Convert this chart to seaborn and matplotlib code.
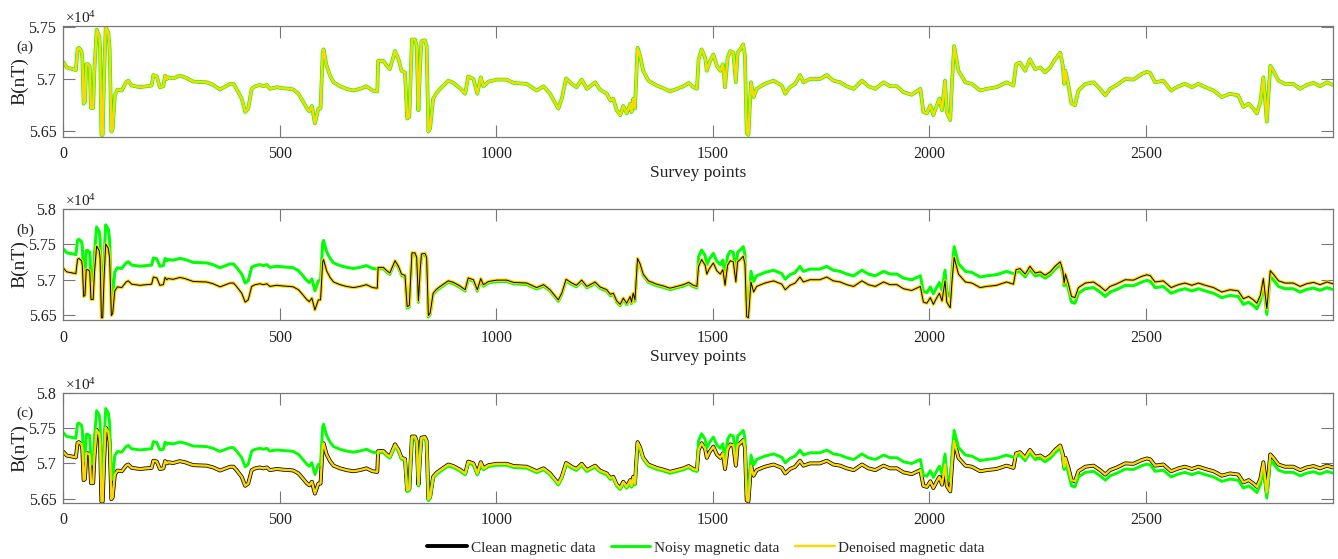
import matplotlib
matplotlib.use("Agg")
import matplotlib.pyplot as plt
import seaborn as sns
import pandas as pd
from matplotlib.ticker import FixedLocator, FuncFormatter

# ---------------- data (nT) ----------------
survey_x = [
    0, 8, 27, 29, 33, 36, 42, 44, 47, 50,
    53, 57, 61, 64, 69, 72, 77, 83, 85, 88,
    91, 94, 98, 104, 107, 111, 114, 119, 125, 135,
    145, 150, 158, 177, 204, 208, 216, 223, 231, 235,
    239, 242, 254, 269, 281, 300, 331, 346, 362, 385,
    393, 400, 412, 420, 427, 435, 443, 454, 462, 470,
    477, 493, 508, 523, 531, 543, 550, 562, 568, 574,
    581, 589, 594, 599, 601, 608, 616, 624, 639, 654,
    670, 685, 700, 714, 725, 727, 739, 747, 754, 766,
    774, 781, 789, 794, 799, 805, 812, 816, 820, 824,
    827, 835, 839, 843, 847, 854, 862, 874, 889, 901,
    916, 928, 935, 947, 956, 964, 970, 982, 1001, 1024,
    1040, 1070, 1093, 1109, 1124, 1143, 1151, 1161, 1174, 1185,
    1197, 1209, 1228, 1239, 1255, 1263, 1270, 1278, 1286, 1293,
    1301, 1309, 1312, 1316, 1320, 1326, 1332, 1339, 1351, 1370,
    1386, 1401, 1417, 1432, 1444, 1455, 1463, 1467, 1474, 1482,
    1486, 1492, 1501, 1509, 1517, 1523, 1528, 1534, 1540, 1547,
    1553, 1557, 1563, 1570, 1574, 1578, 1582, 1588, 1594, 1601,
    1620, 1640, 1659, 1667, 1678, 1690, 1701, 1709, 1724, 1747,
    1763, 1778, 1794, 1809, 1825, 1844, 1859, 1875, 1894, 1909,
    1925, 1940, 1959, 1979, 1986, 1994, 2002, 2009, 2017, 2023,
    2029, 2036, 2040, 2048, 2052, 2057, 2067, 2083, 2098, 2117,
    2132, 2155, 2178, 2194, 2200, 2209, 2221, 2232, 2244, 2256,
    2267, 2279, 2290, 2302, 2308, 2311, 2314, 2321, 2328, 2336,
    2344, 2360, 2379, 2394, 2406, 2417, 2433, 2452, 2471, 2490,
    2502, 2510, 2521, 2540, 2558, 2575, 2590, 2606, 2621, 2637,
    2656, 2675, 2694, 2713, 2725, 2737, 2748, 2756, 2764, 2771,
    2779, 2787, 2794, 2806, 2821, 2840, 2856, 2871, 2887, 2902,
    2918, 2931,
]

clean_nT = [
    57165, 57111, 57089, 57085, 57290, 57301, 57270, 57200, 56763, 56778,
    57142, 57142, 57120, 56721, 56721, 57100, 57475, 57411, 57300, 56462,
    56462, 57000, 57506, 57443, 57300, 56494, 56520, 56842, 56899, 56889,
    56968, 56984, 56937, 56921, 56937, 57038, 57025, 56921, 56930, 57032,
    57000, 57016, 57006, 57032, 57016, 56975, 56968, 56943, 56899, 56953,
    56953, 56905, 56810, 56683, 56715, 56905, 56930, 56943, 56930, 56943,
    56905, 56921, 56911, 56905, 56899, 56858, 56810, 56721, 56690, 56740,
    56573, 56715, 56715, 57253, 57285, 57127, 57032, 56968, 56930, 56905,
    56889, 56905, 56930, 56889, 56880, 57174, 57174, 57127, 57095, 57269,
    57190, 57079, 57063, 56620, 56636, 57380, 57380, 57317, 56699, 57127,
    57364, 57373, 57317, 56494, 56525, 56810, 56867, 56921, 56984, 56962,
    56911, 56858, 57025, 57000, 56858, 57016, 56930, 56975, 56994, 56994,
    56962, 56953, 56889, 56930, 56858, 56715, 56810, 57006, 56953, 56921,
    56994, 56905, 56968, 56899, 56858, 56794, 56810, 56699, 56652, 56740,
    56668, 56763, 56683, 56810, 56715, 57301, 57222, 57079, 56984, 56937,
    56911, 56880, 56905, 56930, 56962, 56921, 56905, 57190, 57285, 57206,
    57079, 57158, 57237, 57127, 57079, 57142, 56921, 57206, 57269, 57253,
    56968, 57253, 57285, 57332, 57222, 56478, 56462, 56968, 56826, 56905,
    56953, 56984, 56937, 56858, 56921, 56953, 57038, 56968, 57000, 57000,
    57038, 56984, 56968, 56930, 56905, 56984, 56930, 56905, 56968, 56930,
    56930, 56873, 56848, 56905, 56683, 56668, 56747, 56652, 56747, 56810,
    56699, 56984, 56683, 56604, 56968, 57317, 57079, 56968, 56953, 56889,
    56905, 56921, 56968, 56937, 57142, 57158, 57079, 57190, 57095, 57111,
    57063, 57111, 57190, 57253, 57127, 56953, 57079, 56937, 56763, 56747,
    56889, 56953, 56968, 56905, 56842, 56905, 56943, 57000, 56994, 57047,
    57070, 57057, 56968, 56984, 56889, 56930, 56953, 56921, 56953, 56921,
    56889, 56826, 56858, 56842, 56731, 56763, 56715, 56668, 56778, 57016,
    56589, 57127, 57079, 56984, 56953, 56953, 56905, 56943, 56962, 56930,
    56968, 56943,
]

# noisy record used in panels (b) and (c)
noisy_nT = [
    57435, 57381, 57359, 57355, 57560, 57571, 57540, 57470, 57033, 57048,
    57412, 57412, 57390, 56991, 56991, 57370, 57745, 57681, 57570, 56732,
    56732, 57270, 57776, 57713, 57570, 56764, 56790, 57112, 57169, 57159,
    57238, 57254, 57207, 57191, 57207, 57308, 57295, 57191, 57200, 57302,
    57270, 57286, 57276, 57302, 57286, 57245, 57238, 57213, 57169, 57223,
    57223, 57175, 57080, 56953, 56985, 57175, 57200, 57213, 57200, 57213,
    57175, 57191, 57181, 57175, 57169, 57128, 57080, 56991, 56960, 57010,
    56843, 56985, 56985, 57523, 57555, 57397, 57302, 57238, 57200, 57175,
    57159, 57175, 57200, 57159, 57150, 57154, 57154, 57107, 57075, 57249,
    57170, 57059, 57043, 56600, 56616, 57360, 57360, 57297, 56679, 57107,
    57344, 57353, 57297, 56474, 56505, 56790, 56847, 56901, 56964, 56942,
    56891, 56838, 57005, 56980, 56838, 56996, 56910, 56955, 56974, 56974,
    56942, 56933, 56869, 56910, 56838, 56695, 56790, 56986, 56933, 56901,
    56974, 56885, 56948, 56879, 56838, 56774, 56790, 56679, 56632, 56720,
    56648, 56743, 56663, 56790, 56695, 57281, 57202, 57059, 56964, 56917,
    56891, 56860, 56885, 56910, 56942, 56901, 56885, 57325, 57420, 57341,
    57214, 57293, 57372, 57262, 57214, 57277, 57056, 57341, 57404, 57388,
    57103, 57388, 57420, 57467, 57357, 56560, 56540, 57118, 56976, 57055,
    57103, 57134, 57087, 57008, 57071, 57103, 57188, 57118, 57150, 57150,
    57188, 57134, 57118, 57080, 57055, 57134, 57080, 57055, 57118, 57080,
    57080, 57023, 56998, 57055, 56833, 56818, 56897, 56802, 56897, 56960,
    56849, 57134, 56833, 56754, 57118, 57467, 57229, 57118, 57103, 57039,
    57055, 57071, 57118, 57087, 57102, 57118, 57039, 57150, 57055, 57071,
    57023, 57071, 57150, 57213, 57087, 56913, 57039, 56857, 56683, 56667,
    56809, 56873, 56888, 56825, 56762, 56825, 56863, 56920, 56914, 56967,
    56990, 56977, 56888, 56904, 56809, 56850, 56873, 56841, 56873, 56841,
    56809, 56746, 56778, 56762, 56651, 56683, 56635, 56588, 56698, 56936,
    56509, 57047, 56999, 56904, 56873, 56873, 56825, 56863, 56882, 56850,
    56888, 56863,
]

# at this resolution the panel (a) noisy trace and the denoised traces lie on the clean one
noisy_a_nT = list(clean_nT)
denoised_nT = list(clean_nT)

series_names = ["Clean magnetic data", "Noisy magnetic data", "Denoised magnetic data"]
panel_tags = ["(a)", "(b)", "(c)"]
x_ticks = [0, 500, 1000, 1500, 2000, 2500]
y_ticks_a = [56500, 57000, 57500]
y_ticks_bc = [56500, 57000, 57500, 58000]

assert len(survey_x) == len(clean_nT) == len(noisy_nT)

# ---------------- styling ----------------
sns.set_theme(style="white")
plt.rcParams["font.family"] = ["Liberation Serif", "DejaVu Serif"]
plt.rcParams["mathtext.fontset"] = "custom"
plt.rcParams["mathtext.rm"] = "Liberation Serif"
plt.rcParams["mathtext.it"] = "Liberation Serif:italic"

C_CLEAN = "#000000"
C_NOISY = "#00FF00"
C_DEN = "#FFD700"
AX_GRAY = "#777777"

df = pd.DataFrame({"x": survey_x, "clean": clean_nT, "noisy": noisy_nT,
                   "noisy_a": noisy_a_nT, "den": denoised_nT})

fig = plt.figure(figsize=(13.38, 5.59), dpi=100)
left, width = 0.0473, 0.9487
boxes = [(0.7555, 0.198), (0.4275, 0.1986), (0.1007, 0.1968)]
ylims = [(56445, 57510), (56430, 58000), (56444, 58000)]

axes = []
for i, (b, h) in enumerate(boxes):
    ax = fig.add_axes([left, b, width, h])
    axes.append(ax)
    if i == 0:
        sns.lineplot(data=df, x="x", y="clean", ax=ax, color=C_CLEAN, lw=1.5,
                     estimator=None, sort=False, label=series_names[0], legend=False)
        sns.lineplot(data=df, x="x", y="noisy_a", ax=ax, color=C_NOISY, lw=2.7,
                     estimator=None, sort=False, label=series_names[1], legend=False)
        sns.lineplot(data=df, x="x", y="den", ax=ax, color=C_DEN, lw=1.8,
                     estimator=None, sort=False, label=series_names[2], legend=False)
    elif i == 1:
        sns.lineplot(data=df, x="x", y="noisy", ax=ax, color=C_NOISY, lw=2.2,
                     estimator=None, sort=False, legend=False)
        sns.lineplot(data=df, x="x", y="den", ax=ax, color=C_DEN, lw=2.4,
                     estimator=None, sort=False, legend=False)
        sns.lineplot(data=df, x="x", y="clean", ax=ax, color=C_CLEAN, lw=0.7,
                     estimator=None, sort=False, legend=False)
    else:
        sns.lineplot(data=df, x="x", y="clean", ax=ax, color=C_CLEAN, lw=2.8,
                     estimator=None, sort=False, label=series_names[0], legend=False)
        sns.lineplot(data=df, x="x", y="noisy", ax=ax, color=C_NOISY, lw=2.1,
                     estimator=None, sort=False, label=series_names[1], legend=False)
        sns.lineplot(data=df, x="x", y="den", ax=ax, color=C_DEN, lw=1.7,
                     estimator=None, sort=False, label=series_names[2], legend=False)

    ax.set_xlim(0, 2931)
    ax.set_ylim(*ylims[i])
    ax.xaxis.set_major_locator(FixedLocator(x_ticks))
    ax.yaxis.set_major_locator(FixedLocator(y_ticks_a if i == 0 else y_ticks_bc))
    ax.yaxis.set_major_formatter(FuncFormatter(lambda v, p: f"{v / 1e4:g}"))
    ax.tick_params(axis="both", which="major", direction="in", length=8.5, width=0.8,
                   color=AX_GRAY, labelcolor="#222222", labelsize=11.5, pad=7,
                   top=True, right=True, bottom=True, left=True)
    ax.tick_params(axis="y", pad=5)
    for sp in ax.spines.values():
        sp.set_color(AX_GRAY)
        sp.set_linewidth(0.9)
    ax.set_ylabel("B(nT)", fontsize=14, color="#222222")
    ax.yaxis.set_label_coords(-0.0278, 0.5)
    if i < 2:
        ax.set_xlabel("Survey points", fontsize=12.5, color="#222222", labelpad=2)
    else:
        ax.set_xlabel("")
    ax.text(0.0013, 1.027, "×10$^{4}$", transform=ax.transAxes, fontsize=11,
            color="#222222", ha="left", va="baseline")
    ax.text(-0.0302, 0.81, panel_tags[i], transform=ax.transAxes, fontsize=11,
            color="#222222", ha="center", va="center")

handles = axes[2].get_lines()[:3]
fig.legend(handles, series_names, loc="center", bbox_to_anchor=(0.5277, 0.0197),
           ncol=3, frameon=False, fontsize=11, handlelength=2.6, handletextpad=0.25,
           columnspacing=1.0, borderaxespad=0.0)

fig.savefig("out.png", dpi=100)
